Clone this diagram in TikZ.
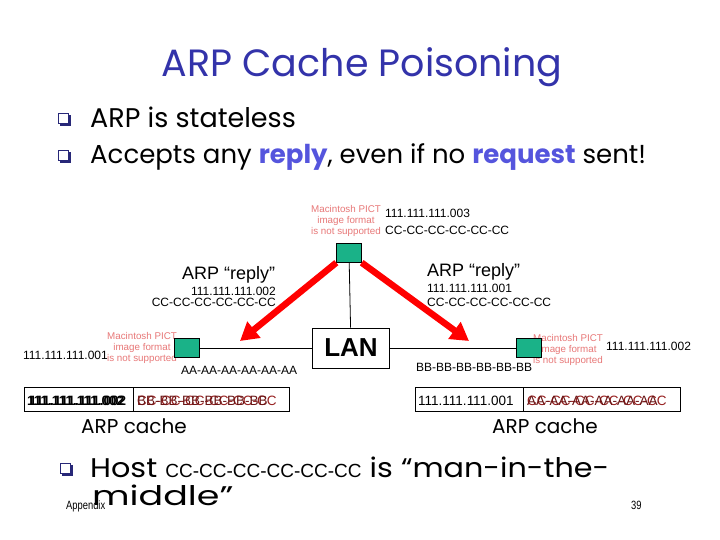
\documentclass[tikz,border=0pt]{standalone}
\usepackage{fontspec}
\setmainfont{Liberation Sans}
\newfontfamily\comic{Poppins}
\newfontfamily\comicw[FakeStretch=1.12]{Poppins}
\newfontfamily\comicww[FakeStretch=1.35]{Poppins}
\newfontfamily\narrow[FakeStretch=0.78]{Liberation Sans}
\usetikzlibrary{arrows.meta}
\definecolor{titleblue}{RGB}{51,51,170}
\definecolor{hiblue}{RGB}{85,85,221}
\definecolor{hostgreen}{RGB}{26,178,136}
\definecolor{pictred}{RGB}{232,120,120}
\definecolor{poison}{RGB}{150,30,30}
\definecolor{bulnavy}{RGB}{40,40,120}
\tikzset{
  host/.style={draw=black, fill=hostgreen, minimum width=25pt, minimum height=19pt, inner sep=0pt},
  pict/.style={text=pictred, font=\fontsize{9.8}{11}\selectfont, align=center, inner sep=0pt},
  small/.style={font=\fontsize{12}{14}\selectfont, inner sep=0pt},
  reply/.style={font=\fontsize{18}{20}\selectfont, inner sep=0pt},
  bigtxt/.style={font=\comic\fontsize{27}{30}\selectfont, inner sep=0pt},
  cachetxt/.style={font=\fontsize{13.5}{15}\selectfont, inner sep=0pt},
  cachelbl/.style={font=\comic\fontsize{20}{22}\selectfont, inner sep=0pt},
  bul/.style={draw=bulnavy, fill=white, line width=0.8pt, minimum size=10pt, inner sep=0pt},
  redarrow/.style={draw=red, line width=6.5pt, -{Triangle[length=18pt,width=20pt]}},
  wire/.style={draw=black, line width=0.8pt},
  cell/.style={draw=black, line width=0.8pt, minimum height=24pt, inner sep=0pt}
}
\begin{document}
\begin{tikzpicture}[x=1pt,y=-1pt]
\useasboundingbox[fill=white] (0,0) rectangle (720,540);
% title
\node[font=\comic\fontsize{38}{40}\selectfont, text=titleblue, anchor=base, inner sep=0pt] (title) at (362,77) {ARP Cache Poisoning};
% bullets
\fill[bulnavy] (60,115) rectangle (71,126);
\node[bul, anchor=north west] (b1) at (58,113) {};
\node[bigtxt, anchor=base west] (t1) at (90,128) {ARP is stateless};
\fill[bulnavy] (60,152) rectangle (71,163);
\node[bul, anchor=north west] (b2) at (58,150) {};
\node[bigtxt, font=\comic\fontsize{26}{30}\selectfont, anchor=base west] (t2) at (90,164) {Accepts any \textcolor{hiblue}{\textbf{reply}}, even if no \textcolor{hiblue}{\textbf{request}} sent!};
% hosts
\node[pict] (pc) at (346,221) {Macintosh PICT\\image format\\is not supported};
\node[pict] (pa) at (142,348) {Macintosh PICT\\image format\\is not supported};
\node[pict] (pb) at (568,350) {Macintosh PICT\\image format\\is not supported};
\node[host] (hc) at (349,253) {};
\node[host] (ha) at (187,348) {};
\node[host] (hb) at (529,348) {};
\node[draw=black, line width=0.8pt, minimum width=77pt, minimum height=40pt, inner sep=0pt, font=\bfseries\fontsize{26}{28}\selectfont] (lan) at (351,348) {LAN};
\draw[wire] (hc) -- (lan);
\draw[wire] (ha) -- (lan);
\draw[wire] (lan) -- (hb);
% host labels
\node[small, anchor=base west] (ipc) at (385,218) {111.111.111.003};
\node[small, anchor=base west] (macc) at (385,234) {CC-CC-CC-CC-CC-CC};
\node[small, anchor=base east] (ipa) at (108,359) {111.111.111.001};
\node[small, anchor=base west] (maca) at (181,374) {AA-AA-AA-AA-AA-AA};
\node[small, anchor=base west] (ipb) at (606,350) {111.111.111.002};
\node[small, anchor=base west] (macb) at (416,371) {BB-BB-BB-BB-BB-BB};
% arrows
\coordinate (tipa) at (240,341);
\coordinate (tipb) at (469,341);
\draw[redarrow] (hc.south west) -- (tipa);
\draw[redarrow] (hc.south east) -- (tipb);
% reply labels
\node[reply, anchor=base west] (ra) at (182,279) {ARP “reply”};
\node[small, anchor=base east] (raip) at (276,295) {111.111.111.002};
\node[small, anchor=base east] (ramac) at (276,306) {CC-CC-CC-CC-CC-CC};
\node[reply, anchor=base west] (rb) at (427,276) {ARP “reply”};
\node[small, anchor=base west] (rbip) at (427,292) {111.111.111.001};
\node[small, anchor=base west] (rbmac) at (427,306) {CC-CC-CC-CC-CC-CC};
% caches
\node[cell, minimum width=109pt, anchor=north west] (ca1) at (24,387) {};
\node[cell, minimum width=156pt, anchor=north west] (ca2) at (133,387) {};
\node[cachetxt, font=\bfseries\fontsize{13.5}{15}\selectfont, anchor=base west] (ca1t) at (27,405) {111.111.111.002};
\node[cachetxt, font=\bfseries\fontsize{13.5}{15}\selectfont, anchor=base west] (ca1g) at (29,405) {111.111.111.002};
\node[cachetxt, anchor=base west, text=poison] (ca2c) at (137,405) {CC-CC-CC-CC-CC-CC};
\node[cachetxt, anchor=base west, text=poison!70!black] (ca2b) at (137,405) {BB-BB-BB-BB-BB-BB};
\node[cell, minimum width=108pt, anchor=north west] (cb1) at (415,387) {};
\node[cell, minimum width=157pt, anchor=north west] (cb2) at (523,387) {};
\node[cachetxt, anchor=base west] (cb1t) at (418,405) {111.111.111.001};
\node[cachetxt, anchor=base west, text=poison] (cb2c) at (527,405) {CC-CC-CC-CC-CC-CC};
\node[cachetxt, anchor=base west, text=poison!70!black] (cb2a) at (527,405) {AA-AA-AA-AA-AA-AA};
\node[cachelbl, anchor=base] (cal) at (134,433) {ARP cache};
\node[cachelbl, anchor=base] (cbl) at (545,433) {ARP cache};
% bottom bullet
\fill[bulnavy] (62,465) rectangle (73,476);
\node[bul, anchor=north west] (b3) at (60,463) {};
\node[bigtxt, font=\comicw\fontsize{27}{30}\selectfont, anchor=base west] (t3) at (90,477) {Host {\normalfont\fontsize{19}{20}\selectfont CC-CC-CC-CC-CC-CC} is “man-in-the-};
\node[bigtxt, font=\comicww\fontsize{27}{30}\selectfont, anchor=base west] (t3b) at (92,505) {middle”};
\node[font=\narrow\fontsize{12}{13}\selectfont, anchor=base west, inner sep=0pt] (app) at (66,509) {Appendix};
\node[font=\narrow\fontsize{12}{13}\selectfont, anchor=base west, inner sep=0pt] (pg) at (631,509) {39};
\end{tikzpicture}
\end{document}
